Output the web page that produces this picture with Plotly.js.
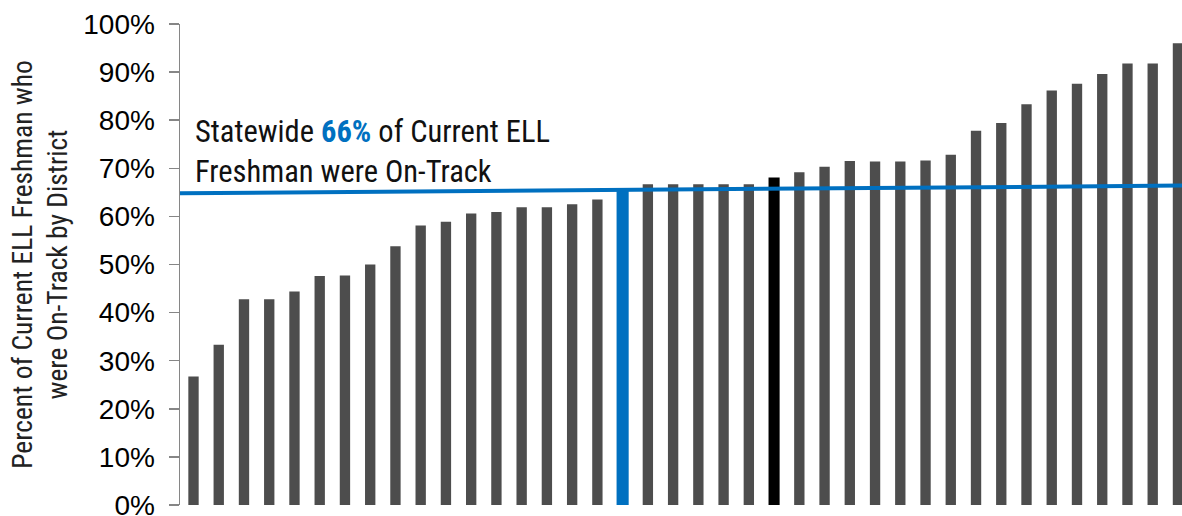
<!DOCTYPE html>
<html>
<head>
<meta charset="utf-8">
<script src="https://cdn.plot.ly/plotly-3.0.1.min.js"></script>
<style>
html,body{margin:0;padding:0;background:#fff;}
#chart{width:1182px;height:516px;}
</style>
</head>
<body>
<div id="chart"></div>
<script>
// District categories (unlabelled in the original chart)
const districts = [
  "D01","D02","D03","D04","D05","D06","D07","D08","D09","D10",
  "D11","D12","D13","D14","D15","D16","D17","D18","D19","D20",
  "D21","D22","D23","D24","D25","D26","D27","D28","D29","D30",
  "D31","D32","D33","D34","D35","D36","D37","D38","D39","D40"
];
// Percent of current ELL freshman on-track, by district (sorted)
const onTrackPct = [
  26.7, 33.3, 42.8, 42.8, 44.4, 47.6, 47.7, 50.0, 53.8, 58.1,
  58.9, 60.6, 60.9, 61.9, 61.9, 62.5, 63.5, 65.9, 66.7, 66.7,
  66.7, 66.7, 66.7, 68.1, 69.2, 70.3, 71.5, 71.4, 71.4, 71.6,
  72.8, 77.8, 79.4, 83.3, 86.2, 87.6, 89.6, 91.8, 91.8, 96.0
];
const highlightBlue = "D18";
const highlightBlack = "D24";
// Statewide reference line (drawn on its own overlay axis)
const statewideX = [0, 1];
const statewideY = [64.8, 66.4];
const yTickVals = [0, 10, 20, 30, 40, 50, 60, 70, 80, 90, 100];
const yTickText = ["0%", "10%", "20%", "30%", "40%", "50%", "60%", "70%", "80%", "90%", "100%"];

const GREY = "#4D4D4D", BLUE = "#0070C0", BLACK = "#000000";
const colors = districts.map(d => d === highlightBlue ? BLUE : (d === highlightBlack ? BLACK : GREY));
const widths = districts.map(d => d === highlightBlue ? 0.48 : (d === highlightBlack ? 0.44 : 0.41));

const narrow = "Roboto Condensed";
const regular = "Liberation Sans";

const traces = [
  {
    type: "bar",
    x: districts,
    y: onTrackPct,
    marker: {color: colors, line: {width: 0}},
    width: widths,
    hoverinfo: "skip",
    showlegend: false
  },
  {
    type: "scatter",
    mode: "lines",
    x: statewideX,
    y: statewideY,
    xaxis: "x2",
    line: {color: BLUE, width: 4},
    hoverinfo: "skip",
    showlegend: false
  }
];

const layout = {
  width: 1182,
  height: 516,
  margin: {l: 180, r: 0, t: 24, b: 11},
  paper_bgcolor: "#fff",
  plot_bgcolor: "#fff",
  showlegend: false,
  font: {family: regular},
  xaxis: {
    type: "category",
    range: [-0.535, 39.16],
    showticklabels: false,
    ticks: "",
    showgrid: false,
    zeroline: false,
    showline: false,
    fixedrange: true
  },
  xaxis2: {
    overlaying: "x",
    range: [0, 1],
    visible: false,
    fixedrange: true
  },
  yaxis: {
    range: [0, 100],
    tickmode: "array",
    tickvals: yTickVals,
    ticktext: yTickText,
    ticks: "outside",
    ticklen: 10,
    tickwidth: 1.5,
    tickcolor: "#868686",
    showline: true,
    linecolor: "#868686",
    linewidth: 1.5,
    showgrid: false,
    zeroline: false,
    ticklabelstandoff: 8,
    ticklabeloverflow: "allow",
    tickfont: {family: regular, size: 28, color: "#000"},
    title: {
      text: "Percent of Current ELL Freshman who<br>were On-Track by District",
      font: {family: narrow, size: 27.5, color: "#222"},
      standoff: 7
    },
    fixedrange: true
  },
  annotations: [
    {
      xref: "paper", yref: "paper",
      x: 0.013, y: 0.817,
      xanchor: "left", yanchor: "top",
      align: "left",
      showarrow: false,
      text: "Statewide <b><span style='color:#0070C0'>66%</span></b> of Current ELL<br>Freshman were On-Track",
      font: {family: narrow, size: 30.5, color: "#111"}
    }
  ]
};

Plotly.newPlot("chart", traces, layout, {displayModeBar: false, staticPlot: true});
</script>
</body>
</html>
